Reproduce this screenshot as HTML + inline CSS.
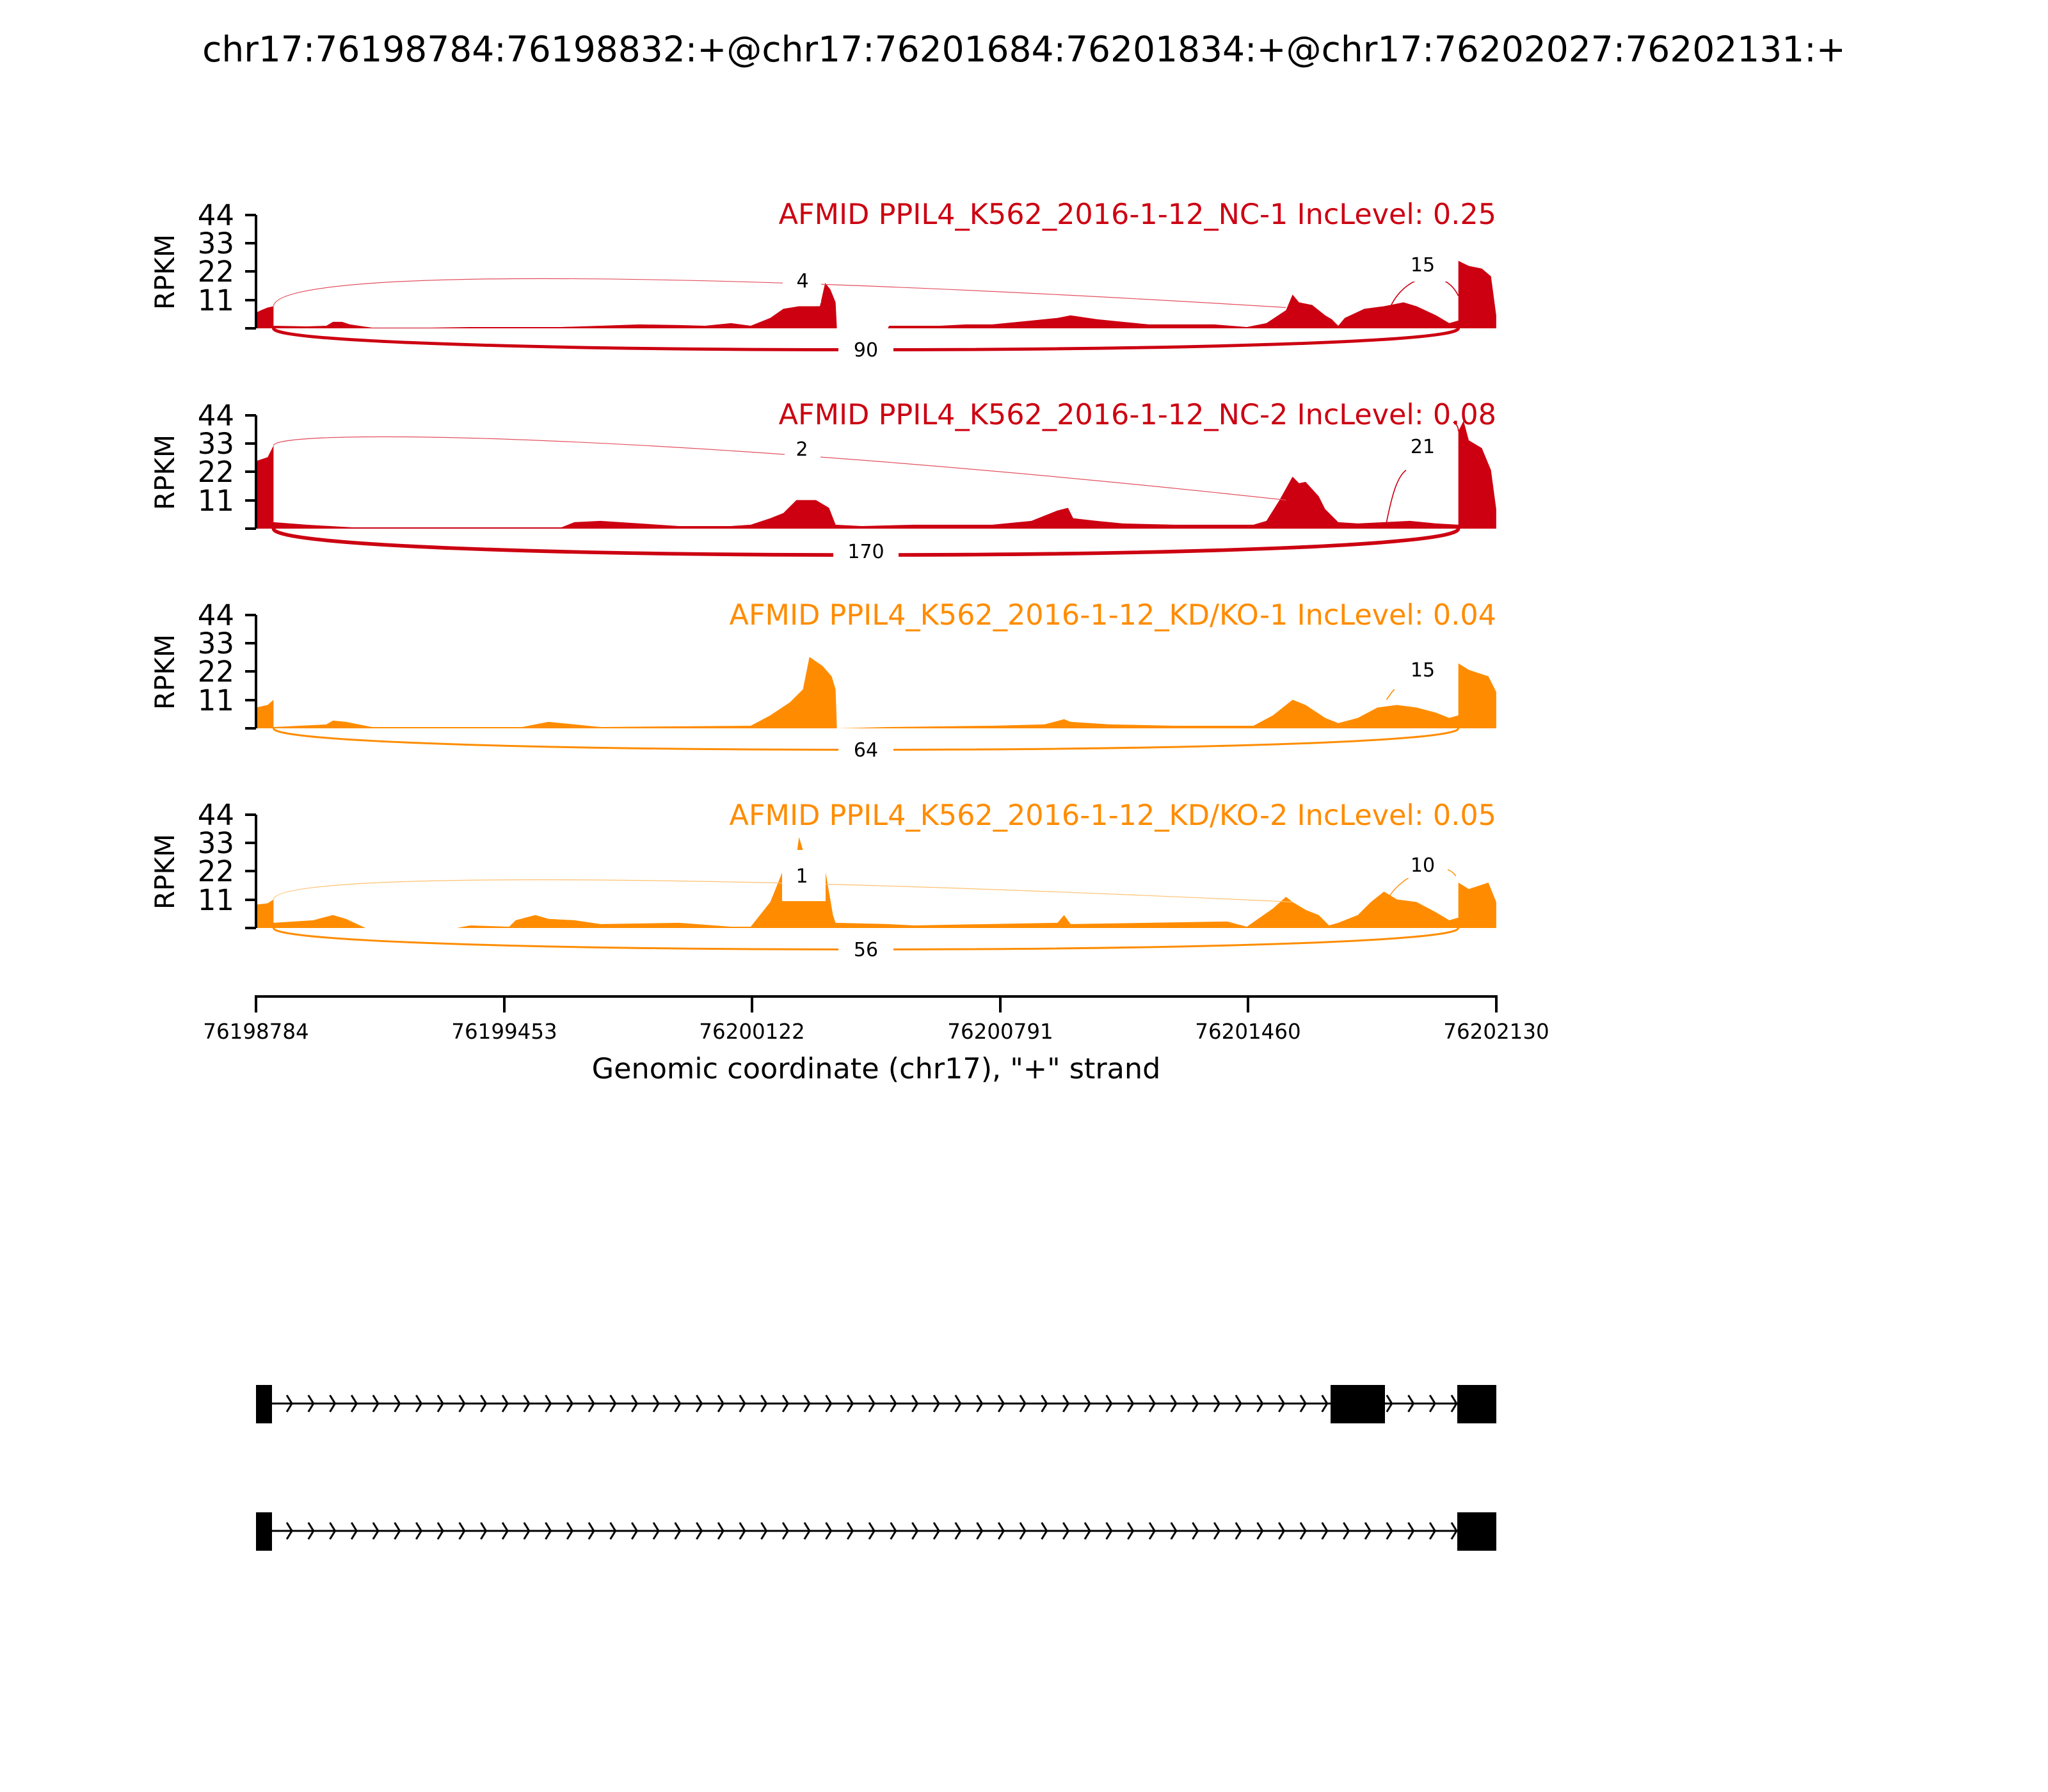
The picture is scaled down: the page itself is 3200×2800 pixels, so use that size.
<!DOCTYPE html>
<html><head><meta charset="utf-8"><style>html,body{margin:0;padding:0;background:#fff}svg{display:block}</style></head>
<body>
<svg xmlns="http://www.w3.org/2000/svg" width="3200" height="2800" viewBox="0 0 3200 2800" font-family="'DejaVu Sans','Liberation Sans',sans-serif">
<defs>
<pattern id="chev1" patternUnits="userSpaceOnUse" x="0" y="2163" width="33.7" height="60">
<path d="M10,17 L18,30 L10,43" fill="none" stroke="#000" stroke-width="3"/>
</pattern>
<pattern id="chev2" patternUnits="userSpaceOnUse" x="0" y="2362" width="33.7" height="60">
<path d="M10,17 L18,30 L10,43" fill="none" stroke="#000" stroke-width="3"/>
</pattern>
</defs>
<rect width="3200" height="2800" fill="#fff"/>
<text x="1600" y="96" font-size="55" text-anchor="middle">chr17:76198784:76198832:+@chr17:76201684:76201834:+@chr17:76202027:76202131:+</text>

<!-- Panel 1 -->
<g transform="translate(0,513) scale(2.04,2.03)">
<polygon fill="#cc0011" points="196,0 196,-12 200,-14 205,-16 209.5,-17 209.5,-2 235,-1.5 250,-2 255,-5 262,-5 268,-3 285,-0.5 330,-0.5 360,-1 400,-1 430,-1 460,-2 490,-3 520,-2.5 540,-2 560,-4 575,-2 590,-8 600,-15 612,-17 628,-17 632,-35 636,-30 640,-20 641,0 680,0 681,-2 720,-2 740,-3 760,-3 790,-6 810,-8 820,-10 840,-7 860,-5 880,-3 900,-3 930,-3 955,-1 970,-4 985,-14 990,-26 995,-20 1005,-18 1015,-10 1020,-7 1025,-2 1030,-8 1045,-15 1060,-17 1075,-20 1085,-17 1100,-10 1110,-4 1117,-6 1117,-52 1125,-48 1135,-46 1142,-40 1146,-10 1146,0"/>
<path d="M209.5,-17 C212,-45 500,-46 985,-16" fill="none" stroke="#e25060" stroke-width="0.6"/>
<path d="M1062,-8 C1070,-40 1105,-50 1117,-25" fill="none" stroke="#cc0011" stroke-width="0.8"/>
<path d="M209.5,0 C209.5,22 1117,22 1117,0" fill="none" stroke="#cc0011" stroke-width="2.4"/>
</g>
<rect x="1223" y="430" width="60" height="43" fill="#fff"/>
<text x="1254" y="449" font-size="30" text-anchor="middle">4</text>
<rect x="2188" y="388" width="74" height="52" fill="#fff"/>
<text x="2223" y="424" font-size="30" text-anchor="middle">15</text>
<rect x="1310" y="525" width="86" height="40" fill="#fff"/>
<text x="1353" y="557" font-size="30" text-anchor="middle">90</text>

<!-- Panel 2 -->
<g transform="translate(0,826) scale(2.04,2.03)">
<polygon fill="#cc0011" points="196,0 196,-52 205,-55 209.5,-64 209.5,-5 235,-3 270,-1 430,-1 440,-5 460,-6 490,-4 520,-2 560,-2 575,-3 590,-8 600,-12 610,-22 625,-22 635,-16 640,-3 660,-2 700,-3 760,-3 790,-6 810,-14 818,-16 822,-8 840,-6 860,-4 900,-3 940,-3 960,-3 970,-6 980,-22 990,-40 995,-35 1000,-36 1010,-25 1015,-15 1025,-5 1040,-4 1060,-5 1080,-6 1100,-4 1117,-3 1117,-75 1121,-83 1125,-68 1135,-62 1142,-45 1146,-15 1146,0"/>
<path d="M209.5,-64 C212,-77 500,-75 985,-22" fill="none" stroke="#e25060" stroke-width="0.6"/>
<path d="M1062,-5 C1066,-25 1070,-40 1077,-45" fill="none" stroke="#cc0011" stroke-width="0.8"/>
<path d="M1113,-82 C1116,-80 1117,-78 1117,-75" fill="none" stroke="#cc0011" stroke-width="0.8"/>
<path d="M209.5,0 C209.5,27 1117,27 1117,0" fill="none" stroke="#cc0011" stroke-width="2.8"/>
</g>
<rect x="1226" y="678" width="56" height="42" fill="#fff"/>
<text x="1253" y="712" font-size="30" text-anchor="middle">2</text>
<rect x="2188" y="673" width="74" height="44" fill="#fff"/>
<text x="2223" y="708" font-size="30" text-anchor="middle">21</text>
<rect x="1302" y="840" width="102" height="40" fill="#fff"/>
<text x="1353" y="872" font-size="30" text-anchor="middle">170</text>

<!-- Panel 3 -->
<g transform="translate(0,1138) scale(2.04,2.03)">
<polygon fill="#ff8c00" points="196,0 196,-16 205,-18 209.5,-22 209.5,-1 250,-3 255,-6 265,-5 285,-1 400,-1 410,-3 420,-5 440,-3 460,-1 575,-2 590,-10 605,-20 615,-30 620,-55 630,-48 637,-40 640,-30 641,0 680,-1 760,-2 800,-3 815,-7 820,-5 850,-3 900,-2 960,-2 975,-10 990,-22 1000,-18 1015,-8 1025,-4 1040,-8 1055,-16 1070,-18 1085,-16 1100,-12 1110,-8 1117,-10 1117,-50 1125,-45 1140,-40 1146,-28 1146,0"/>
<path d="M1062,-22 C1064,-25 1066,-28 1068,-30" fill="none" stroke="#ff8c00" stroke-width="0.8"/>
<path d="M209.5,0 C209.5,22 1117,22 1117,0" fill="none" stroke="#ff8c00" stroke-width="1.5"/>
</g>
<rect x="2188" y="1023" width="74" height="44" fill="#fff"/>
<text x="2223" y="1057" font-size="30" text-anchor="middle">15</text>
<rect x="1310" y="1150" width="86" height="40" fill="#fff"/>
<text x="1353" y="1182" font-size="30" text-anchor="middle">64</text>

<!-- Panel 4 -->
<g transform="translate(0,1450) scale(2.04,2.03)">
<polygon fill="#ff8c00" points="196,0 196,-18 205,-19 209.5,-22 209.5,-4 240,-6 255,-10 265,-7 280,0 350,0 360,-2 390,-1 395,-6 410,-10 420,-7 440,-6 460,-3 520,-4 560,-1 575,-1 590,-20 600,-45 610,-55 612,-70 615,-60 625,-45 632,-45 638,-10 640,-4 680,-3 700,-2 810,-4 815,-10 820,-3 940,-5 955,-1 965,-8 975,-15 985,-24 990,-20 1000,-14 1010,-10 1018,-2 1025,-4 1040,-10 1050,-20 1060,-28 1070,-22 1085,-20 1100,-12 1110,-6 1117,-8 1117,-35 1125,-30 1140,-35 1146,-20 1146,0"/>
<path d="M209.5,-22 C212,-42 500,-43 990,-20" fill="none" stroke="#ffc070" stroke-width="0.6"/>
<path d="M1062,-20 C1070,-40 1105,-55 1115,-40" fill="none" stroke="#ff8c00" stroke-width="0.7"/>
<path d="M209.5,0 C209.5,22 1117,22 1117,0" fill="none" stroke="#ff8c00" stroke-width="1.5"/>
</g>
<rect x="1222" y="1328" width="68" height="80" fill="#fff"/>
<text x="1253" y="1379" font-size="30" text-anchor="middle">1</text>
<rect x="2188" y="1328" width="74" height="44" fill="#fff"/>
<text x="2223" y="1362" font-size="30" text-anchor="middle">10</text>
<rect x="1310" y="1462" width="86" height="40" fill="#fff"/>
<text x="1353" y="1494" font-size="30" text-anchor="middle">56</text>

<!-- Y axes -->
<g stroke="#000" stroke-width="4" fill="none">
<path d="M400,336 V513 M383,336 H400 M383,380 H400 M383,424 H400 M383,469 H400 M383,513 H400"/>
<path d="M400,649 V826 M383,649 H400 M383,693 H400 M383,737 H400 M383,782 H400 M383,826 H400"/>
<path d="M400,961 V1138 M383,961 H400 M383,1005 H400 M383,1049 H400 M383,1094 H400 M383,1138 H400"/>
<path d="M400,1273 V1450 M383,1273 H400 M383,1317 H400 M383,1361 H400 M383,1406 H400 M383,1450 H400"/>
</g>
<g font-size="45" text-anchor="end">
<text x="366" y="352">44</text><text x="366" y="396">33</text><text x="366" y="440">22</text><text x="366" y="485">11</text>
<text x="366" y="665">44</text><text x="366" y="709">33</text><text x="366" y="753">22</text><text x="366" y="798">11</text>
<text x="366" y="977">44</text><text x="366" y="1021">33</text><text x="366" y="1065">22</text><text x="366" y="1110">11</text>
<text x="366" y="1289">44</text><text x="366" y="1333">33</text><text x="366" y="1377">22</text><text x="366" y="1422">11</text>
</g>
<g font-size="42" text-anchor="middle">
<text transform="translate(272,425) rotate(-90)">RPKM</text>
<text transform="translate(272,738) rotate(-90)">RPKM</text>
<text transform="translate(272,1050) rotate(-90)">RPKM</text>
<text transform="translate(272,1362) rotate(-90)">RPKM</text>
</g>
<g font-size="44.5" text-anchor="end">
<text x="2338" y="350" fill="#cc0011">AFMID PPIL4_K562_2016-1-12_NC-1 IncLevel: 0.25</text>
<text x="2338" y="663" fill="#cc0011">AFMID PPIL4_K562_2016-1-12_NC-2 IncLevel: 0.08</text>
<text x="2338" y="976" fill="#ff8c00">AFMID PPIL4_K562_2016-1-12_KD/KO-1 IncLevel: 0.04</text>
<text x="2338" y="1289" fill="#ff8c00">AFMID PPIL4_K562_2016-1-12_KD/KO-2 IncLevel: 0.05</text>
</g>

<!-- X axis -->
<g stroke="#000" stroke-width="4" fill="none">
<path d="M400,1557 H2338 M400,1555 V1582 M788,1555 V1582 M1175,1555 V1582 M1563,1555 V1582 M1950,1555 V1582 M2338,1555 V1582"/>
</g>
<g font-size="32.5" text-anchor="middle">
<text x="400" y="1623">76198784</text><text x="788" y="1623">76199453</text><text x="1175" y="1623">76200122</text>
<text x="1563" y="1623">76200791</text><text x="1950" y="1623">76201460</text><text x="2338" y="1623">76202130</text>
</g>
<text x="1369" y="1685" font-size="44.5" text-anchor="middle">Genomic coordinate (chr17), "+" strand</text>

<!-- Gene tracks -->
<rect x="421" y="2163" width="1856" height="60" fill="url(#chev1)"/>
<line x1="421" y1="2193" x2="2277" y2="2193" stroke="#000" stroke-width="3"/>
<rect x="400" y="2164" width="25" height="60" fill="#000"/>
<rect x="2079" y="2164" width="85" height="60" fill="#000"/>
<rect x="2277" y="2164" width="61" height="60" fill="#000"/>

<rect x="421" y="2362" width="1856" height="60" fill="url(#chev2)"/>
<line x1="421" y1="2392" x2="2277" y2="2392" stroke="#000" stroke-width="3"/>
<rect x="400" y="2363" width="25" height="60" fill="#000"/>
<rect x="2277" y="2363" width="61" height="60" fill="#000"/>
</svg>
</body></html>
